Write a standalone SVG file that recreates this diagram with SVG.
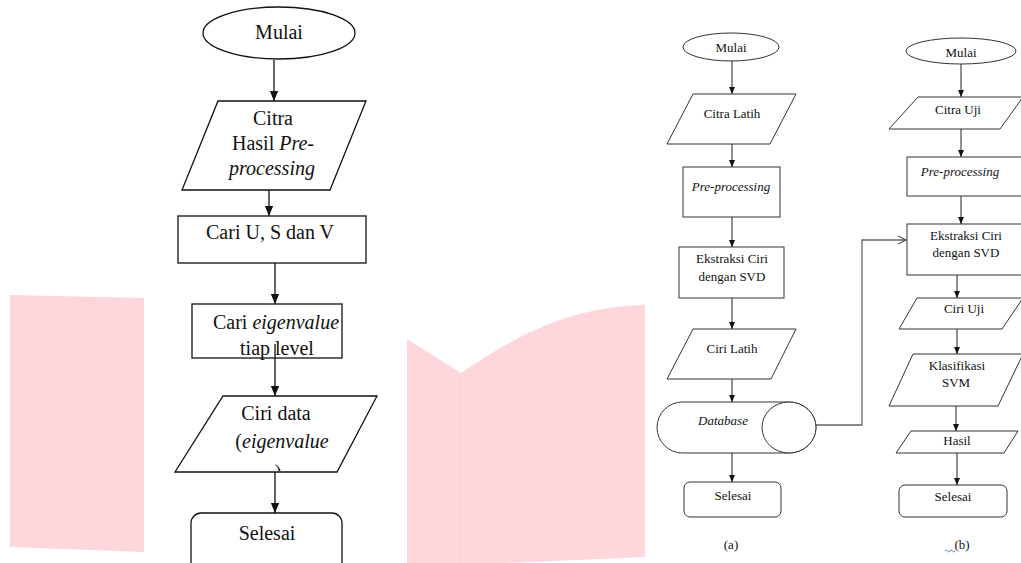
<svg xmlns="http://www.w3.org/2000/svg" width="1021" height="563" viewBox="0 0 1021 563">
<style>
.bg{fill:#FFD6DB;stroke:none}
.nL{fill:#fff;stroke:#111;stroke-width:1.3}
.nR{fill:#fff;stroke:#333;stroke-width:1}
.tL{font-family:"Liberation Serif","Times New Roman",serif;font-size:20px;fill:#111;text-anchor:middle}
.tR{font-family:"Liberation Serif","Times New Roman",serif;font-size:13px;fill:#111;text-anchor:middle}
.i{font-style:italic}
.cL{stroke:#111;stroke-width:1.3;fill:none}
.cR{stroke:#222;stroke-width:1;fill:none}
</style>
<defs>
<marker id="aL" markerUnits="userSpaceOnUse" markerWidth="10" markerHeight="12" viewBox="0 0 12 10" refX="12" refY="5" orient="auto"><path d="M0,0 L12,5 L0,10 Z" fill="#111"/></marker>
<marker id="aR" markerUnits="userSpaceOnUse" markerWidth="7" markerHeight="6" viewBox="0 0 7 6" refX="7" refY="3" orient="auto"><path d="M0,0 L7,3 L0,6 Z" fill="#111"/></marker>
<marker id="aO" markerUnits="userSpaceOnUse" markerWidth="10" markerHeight="10" viewBox="0 0 10 10" refX="9" refY="5" orient="auto"><path d="M1,1 L9,5 L1,9" fill="none" stroke="#555" stroke-width="1.2"/></marker>
<clipPath id="cpCiri"><polygon points="223,396 377,396 337,471 175,471"/></clipPath>
</defs>

<g id="background">
<polygon class="bg" points="10,295 144,298 144,552 10,547"/>
<path class="bg" d="M407,339 L461,373 C505,344 560,307 645,305 L645,557 L461,565 L407,565 Z"/>
<line x1="461" y1="373" x2="461" y2="563" stroke="#FCCFD5" stroke-width="1"/>
</g>

<g id="connectors">
<line class="cL" x1="274" y1="60" x2="274" y2="101" marker-end="url(#aL)"/>
<line class="cL" x1="269" y1="190" x2="269" y2="216" marker-end="url(#aL)"/>
<line class="cL" x1="275" y1="263" x2="275" y2="304" marker-end="url(#aL)"/>
<line class="cL" x1="275" y1="358" x2="275" y2="396" marker-end="url(#aL)"/>
<line class="cL" x1="275" y1="472" x2="275" y2="513" marker-end="url(#aL)"/>

<line class="cR" x1="732" y1="61" x2="732" y2="94" marker-end="url(#aR)"/>
<line class="cR" x1="732" y1="144" x2="732" y2="167" marker-end="url(#aR)"/>
<line class="cR" x1="732" y1="217" x2="732" y2="247" marker-end="url(#aR)"/>
<line class="cR" x1="732" y1="298" x2="732" y2="329" marker-end="url(#aR)"/>
<line class="cR" x1="732" y1="379" x2="732" y2="402" marker-end="url(#aR)"/>
<line class="cR" x1="732" y1="453" x2="732" y2="482" marker-end="url(#aR)"/>
<polyline points="816,425 862,425 862,240 906,240" fill="none" stroke="#666" stroke-width="1.3" marker-end="url(#aO)"/>

<line class="cR" x1="961" y1="64" x2="961" y2="97" marker-end="url(#aR)"/>
<line class="cR" x1="961" y1="129" x2="961" y2="157" marker-end="url(#aR)"/>
<line class="cR" x1="961" y1="196" x2="961" y2="224" marker-end="url(#aR)"/>
<line class="cR" x1="957" y1="275" x2="957" y2="298" marker-end="url(#aR)"/>
<line class="cR" x1="957" y1="329" x2="957" y2="354" marker-end="url(#aR)"/>
<line class="cR" x1="956" y1="406" x2="956" y2="431" marker-end="url(#aR)"/>
<line class="cR" x1="957" y1="453" x2="957" y2="485" marker-end="url(#aR)"/>
</g>

<g id="L-mulai">
<ellipse class="nL" cx="279" cy="33" rx="76" ry="26"/>
<text class="tL" x="279" y="39">Mulai</text>
</g>
<g id="L-citra">
<polygon class="nL" points="218,101 366,101 330,190 182,190"/>
<text class="tL" x="273" y="125">Citra</text>
<text class="tL" x="273" y="150">Hasil <tspan class="i">Pre-</tspan></text>
<text class="tL i" x="272" y="175">processing</text>
</g>
<g id="L-cari-usv">
<rect class="nL" x="178" y="216" width="188" height="47"/>
<text class="tL" x="270" y="239">Cari U, S dan V</text>
</g>
<g id="L-cari-eigen">
<rect class="nL" x="192" y="304" width="150" height="54"/>
<text class="tL" x="276" y="329">Cari <tspan class="i">eigenvalue</tspan></text>
<text class="tL" x="277" y="355">tiap level</text>
</g>
<line class="cL" x1="275" y1="344" x2="275" y2="358"/>
<g id="L-ciri">
<polygon class="nL" points="223,396 377,396 337,472 175,472"/>
<text class="tL" x="276" y="420">Ciri data</text>
<text class="tL" x="282" y="448">(<tspan class="i">eigenvalue</tspan></text>
<text class="tL" x="278" y="479" clip-path="url(#cpCiri)">)</text>
</g>
<g id="L-selesai">
<rect class="nL" x="191" y="513" width="151" height="62" rx="10"/>
<text class="tL" x="267" y="540">Selesai</text>
</g>

<g id="A-mulai">
<ellipse class="nR" cx="731" cy="47" rx="48" ry="14"/>
<text class="tR" x="731" y="52">Mulai</text>
</g>
<g id="A-citra">
<polygon class="nR" points="693,94 796,94 770,144 667,144"/>
<text class="tR" x="732" y="118">Citra Latih</text>
</g>
<g id="A-pre">
<rect class="nR" x="683" y="167" width="97" height="50"/>
<text class="tR i" x="731" y="191">Pre-processing</text>
</g>
<g id="A-ekstraksi">
<rect class="nR" x="679" y="247" width="105" height="51"/>
<text class="tR" x="732" y="263">Ekstraksi Ciri</text>
<text class="tR" x="732" y="281">dengan SVD</text>
</g>
<g id="A-ciri">
<polygon class="nR" points="693,329 796,329 771,379 667,379"/>
<text class="tR" x="732" y="353">Ciri Latih</text>
</g>
<g id="A-database">
<path class="nR" d="M682.5,402 L789,402 A27,25.5 0 0 1 789,453 L682.5,453 A25.5,25.5 0 0 1 682.5,402 Z"/>
<ellipse class="nR" cx="789" cy="427.5" rx="27" ry="25.5"/>
<text class="tR i" x="723" y="425">Database</text>
</g>
<g id="A-selesai">
<rect class="nR" x="684" y="482" width="97" height="35" rx="6"/>
<text class="tR" x="733" y="500">Selesai</text>
</g>
<text class="tR" x="731" y="549" font-size="12">(a)</text>

<g id="B-mulai">
<ellipse class="nR" cx="961" cy="51" rx="55" ry="13"/>
<text class="tR" x="961" y="57">Mulai</text>
</g>
<g id="B-citra">
<polygon class="nR" points="918,97 1023,97 1000,129 889,129"/>
<text class="tR" x="958" y="114">Citra Uji</text>
</g>
<g id="B-pre">
<rect class="nR" x="907" y="157" width="120" height="39"/>
<text class="tR i" x="960" y="176">Pre-processing</text>
</g>
<g id="B-ekstraksi">
<rect class="nR" x="907" y="224" width="120" height="51"/>
<text class="tR" x="966" y="240">Ekstraksi Ciri</text>
<text class="tR" x="966" y="257">dengan SVD</text>
</g>
<g id="B-ciri">
<polygon class="nR" points="917,298 1023,298 1002,329 899,329"/>
<text class="tR" x="964" y="313">Ciri Uji</text>
</g>
<g id="B-klasifikasi">
<polygon class="nR" points="913,354 1023,354 998,406 889,406"/>
<text class="tR" x="957" y="370">Klasifikasi</text>
<text class="tR" x="956" y="387">SVM</text>
</g>
<g id="B-hasil">
<polygon class="nR" points="911,431 1018,431 1004,453 896,453"/>
<text class="tR" x="957" y="445">Hasil</text>
</g>
<g id="B-selesai">
<rect class="nR" x="899" y="485" width="108" height="32" rx="6"/>
<text class="tR" x="953" y="501">Selesai</text>
</g>
<text class="tR" x="962" y="549" font-size="12">(b)</text>
<path d="M945,551 q1.25,-2 2.5,0 t2.5,0 t2.5,0 t2.5,0" fill="none" stroke="#4472C4" stroke-width="0.9"/>
</svg>
